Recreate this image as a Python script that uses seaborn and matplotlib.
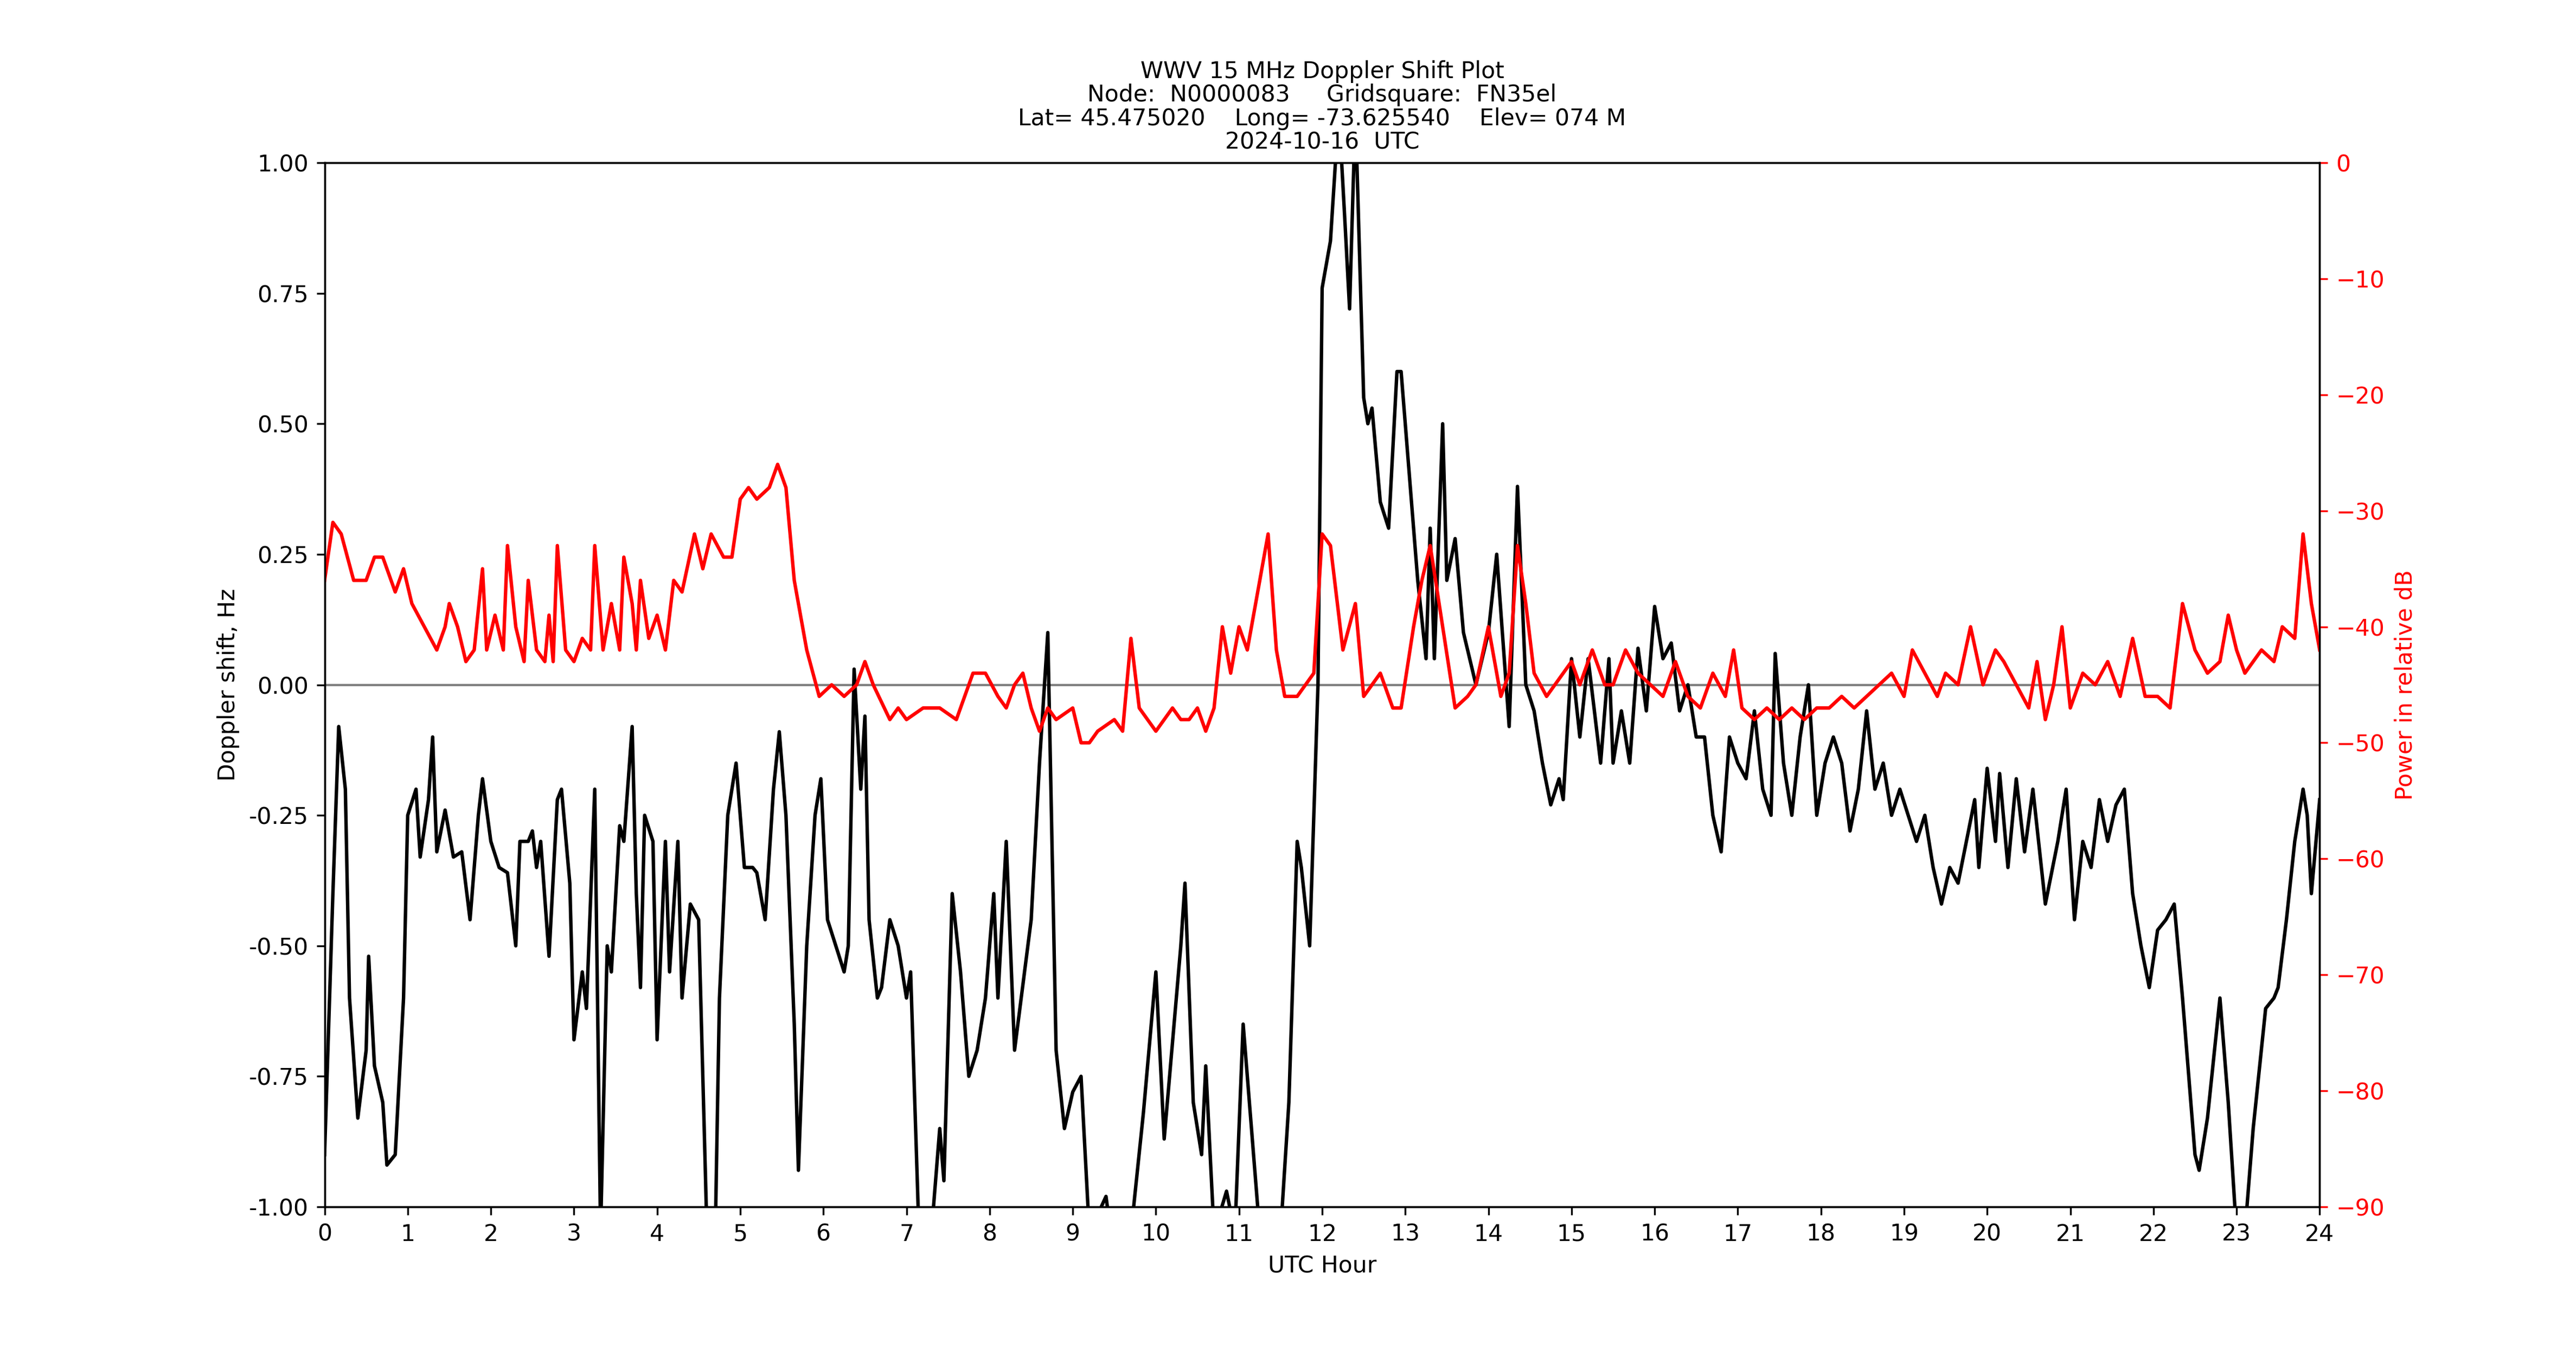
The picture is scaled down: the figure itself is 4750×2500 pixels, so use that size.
import matplotlib
matplotlib.use("Agg")
import matplotlib.pyplot as plt
import seaborn as sns
import pandas as pd

dop_t = [0,0.1,0.17,0.25,0.3,0.4,0.5,0.53,0.6,0.7,0.75,0.85,0.95,1.0,1.1,1.15,1.25,1.3,1.35,1.45,1.55,1.65,1.75,1.85,1.9,2.0,2.1,2.2,2.3,2.35,2.45,2.5,2.55,2.6,2.7,2.8,2.85,2.95,3.0,3.1,3.15,3.25,3.32,3.4,3.45,3.55,3.6,3.7,3.75,3.8,3.85,3.95,4.0,4.1,4.15,4.25,4.3,4.4,4.5,4.6,4.7,4.75,4.85,4.95,5.05,5.15,5.2,5.3,5.4,5.47,5.55,5.65,5.7,5.8,5.9,5.97,6.05,6.15,6.25,6.3,6.37,6.45,6.5,6.55,6.65,6.7,6.8,6.9,7.0,7.05,7.15,7.3,7.4,7.45,7.55,7.65,7.75,7.85,7.95,8.05,8.1,8.2,8.3,8.5,8.6,8.7,8.8,8.9,9.0,9.1,9.2,9.4,9.5,9.7,9.85,10.0,10.1,10.3,10.35,10.45,10.55,10.6,10.7,10.85,10.95,11.05,11.15,11.25,11.5,11.6,11.7,11.75,11.85,11.95,12.0,12.1,12.2,12.27,12.33,12.4,12.5,12.55,12.6,12.7,12.8,12.9,12.95,13.05,13.15,13.25,13.3,13.35,13.45,13.5,13.6,13.7,13.85,14.0,14.1,14.25,14.35,14.45,14.55,14.65,14.75,14.85,14.9,15.0,15.1,15.2,15.35,15.45,15.5,15.6,15.7,15.8,15.9,16.0,16.1,16.2,16.3,16.4,16.5,16.6,16.7,16.8,16.9,17.0,17.1,17.2,17.3,17.4,17.45,17.55,17.65,17.75,17.85,17.95,18.05,18.15,18.25,18.35,18.45,18.55,18.65,18.75,18.85,18.95,19.05,19.15,19.25,19.35,19.45,19.55,19.65,19.75,19.85,19.9,20.0,20.1,20.15,20.25,20.35,20.45,20.55,20.7,20.85,20.95,21.05,21.15,21.25,21.35,21.45,21.55,21.65,21.75,21.85,21.95,22.05,22.15,22.25,22.35,22.5,22.55,22.65,22.8,22.9,23.0,23.1,23.2,23.35,23.45,23.5,23.6,23.7,23.8,23.85,23.9,24.0]
dop_v = [-0.9,-0.4,-0.08,-0.2,-0.6,-0.83,-0.7,-0.52,-0.73,-0.8,-0.92,-0.9,-0.6,-0.25,-0.2,-0.33,-0.22,-0.1,-0.32,-0.24,-0.33,-0.32,-0.45,-0.25,-0.18,-0.3,-0.35,-0.36,-0.5,-0.3,-0.3,-0.28,-0.35,-0.3,-0.52,-0.22,-0.2,-0.38,-0.68,-0.55,-0.62,-0.2,-1.05,-0.5,-0.55,-0.27,-0.3,-0.08,-0.4,-0.58,-0.25,-0.3,-0.68,-0.3,-0.55,-0.3,-0.6,-0.42,-0.45,-1.05,-1.05,-0.6,-0.25,-0.15,-0.35,-0.35,-0.36,-0.45,-0.2,-0.09,-0.25,-0.65,-0.93,-0.5,-0.25,-0.18,-0.45,-0.5,-0.55,-0.5,0.03,-0.2,-0.06,-0.45,-0.6,-0.58,-0.45,-0.5,-0.6,-0.55,-1.05,-1.05,-0.85,-0.95,-0.4,-0.55,-0.75,-0.7,-0.6,-0.4,-0.6,-0.3,-0.7,-0.45,-0.15,0.1,-0.7,-0.85,-0.78,-0.75,-1.05,-0.98,-1.1,-1.05,-0.82,-0.55,-0.87,-0.5,-0.38,-0.8,-0.9,-0.73,-1.05,-0.97,-1.05,-0.65,-0.85,-1.05,-1.05,-0.8,-0.3,-0.35,-0.5,0.0,0.76,0.85,1.1,0.9,0.72,1.1,0.55,0.5,0.53,0.35,0.3,0.6,0.6,0.4,0.2,0.05,0.3,0.05,0.5,0.2,0.28,0.1,0.0,0.1,0.25,-0.08,0.38,0.0,-0.05,-0.15,-0.23,-0.18,-0.22,0.05,-0.1,0.05,-0.15,0.05,-0.15,-0.05,-0.15,0.07,-0.05,0.15,0.05,0.08,-0.05,0.0,-0.1,-0.1,-0.25,-0.32,-0.1,-0.15,-0.18,-0.05,-0.2,-0.25,0.06,-0.15,-0.25,-0.1,0.0,-0.25,-0.15,-0.1,-0.15,-0.28,-0.2,-0.05,-0.2,-0.15,-0.25,-0.2,-0.25,-0.3,-0.25,-0.35,-0.42,-0.35,-0.38,-0.3,-0.22,-0.35,-0.16,-0.3,-0.17,-0.35,-0.18,-0.32,-0.2,-0.42,-0.3,-0.2,-0.45,-0.3,-0.35,-0.22,-0.3,-0.23,-0.2,-0.4,-0.5,-0.58,-0.47,-0.45,-0.42,-0.6,-0.9,-0.93,-0.83,-0.6,-0.8,-1.05,-1.05,-0.85,-0.62,-0.6,-0.58,-0.45,-0.3,-0.2,-0.25,-0.4,-0.22]

pow_t = [0,0.1,0.2,0.35,0.5,0.6,0.7,0.85,0.95,1.05,1.2,1.35,1.45,1.5,1.6,1.7,1.8,1.9,1.95,2.05,2.15,2.2,2.3,2.4,2.45,2.55,2.65,2.7,2.75,2.8,2.9,3.0,3.1,3.2,3.25,3.35,3.45,3.55,3.6,3.7,3.75,3.8,3.9,4.0,4.1,4.2,4.3,4.45,4.55,4.65,4.8,4.9,5.0,5.1,5.2,5.35,5.45,5.55,5.65,5.8,5.95,6.1,6.25,6.4,6.5,6.6,6.8,6.9,7.0,7.2,7.4,7.6,7.8,7.95,8.1,8.2,8.3,8.4,8.5,8.6,8.7,8.8,9.0,9.1,9.2,9.3,9.5,9.6,9.7,9.8,10.0,10.2,10.3,10.4,10.5,10.6,10.7,10.8,10.9,11.0,11.1,11.2,11.35,11.45,11.55,11.7,11.9,12.0,12.1,12.25,12.4,12.5,12.7,12.85,12.95,13.1,13.2,13.3,13.45,13.6,13.75,13.85,14.0,14.15,14.25,14.35,14.45,14.55,14.7,14.8,14.9,15.0,15.1,15.25,15.4,15.5,15.65,15.8,15.95,16.1,16.25,16.4,16.55,16.7,16.85,16.95,17.05,17.2,17.35,17.5,17.65,17.8,17.95,18.1,18.25,18.4,18.55,18.7,18.85,19.0,19.1,19.25,19.4,19.5,19.65,19.8,19.95,20.1,20.2,20.35,20.5,20.6,20.7,20.8,20.9,21.0,21.15,21.3,21.45,21.6,21.75,21.9,22.05,22.2,22.35,22.5,22.65,22.8,22.9,23.0,23.1,23.3,23.45,23.55,23.7,23.8,23.9,24.0]
pow_v = [-36,-31,-32,-36,-36,-34,-34,-37,-35,-38,-40,-42,-40,-38,-40,-43,-42,-35,-42,-39,-42,-33,-40,-43,-36,-42,-43,-39,-43,-33,-42,-43,-41,-42,-33,-42,-38,-42,-34,-38,-42,-36,-41,-39,-42,-36,-37,-32,-35,-32,-34,-34,-29,-28,-29,-28,-26,-28,-36,-42,-46,-45,-46,-45,-43,-45,-48,-47,-48,-47,-47,-48,-44,-44,-46,-47,-45,-44,-47,-49,-47,-48,-47,-50,-50,-49,-48,-49,-41,-47,-49,-47,-48,-48,-47,-49,-47,-40,-44,-40,-42,-38,-32,-42,-46,-46,-44,-32,-33,-42,-38,-46,-44,-47,-47,-40,-36,-33,-40,-47,-46,-45,-40,-46,-44,-33,-38,-44,-46,-45,-44,-43,-45,-42,-45,-45,-42,-44,-45,-46,-43,-46,-47,-44,-46,-42,-47,-48,-47,-48,-47,-48,-47,-47,-46,-47,-46,-45,-44,-46,-42,-44,-46,-44,-45,-40,-45,-42,-43,-45,-47,-43,-48,-45,-40,-47,-44,-45,-43,-46,-41,-46,-46,-47,-38,-42,-44,-43,-39,-42,-44,-42,-43,-40,-41,-32,-38,-42]

hour_ticks = list(range(0, 25))

fig = plt.figure(figsize=(4750/306, 2500/306), dpi=306)
ax = fig.add_axes([0.126, 0.11, 0.7745, 0.77])
ax.axhline(0, color="gray", lw=1)
sns.lineplot(x=dop_t, y=dop_v, ax=ax, color="black", lw=1.5, sort=False)
ax.set_xlim(0, 24)
ax.set_ylim(-1, 1)
ax.set_xticks(hour_ticks)
ax.set_yticks([-1, -0.75, -0.5, -0.25, 0, 0.25, 0.5, 0.75, 1])
ax.yaxis.set_major_formatter(matplotlib.ticker.FormatStrFormatter("%.2f"))
ax.set_xlabel("UTC Hour")
ax.set_ylabel("Doppler shift, Hz")
ax.set_title("WWV 15 MHz Doppler Shift Plot\nNode:  N0000083     Gridsquare:  FN35el\n"
             "Lat= 45.475020    Long= -73.625540    Elev= 074 M\n2024-10-16  UTC", fontsize=10, linespacing=1.05)

ax2 = ax.twinx()
sns.lineplot(x=pow_t, y=pow_v, ax=ax2, color="red", lw=1.5, sort=False)
ax2.set_ylim(-90, 0)
ax2.set_yticks(range(-90, 1, 10))
ax2.set_ylabel("Power in relative dB", color="red")
ax2.tick_params(axis="y", colors="red")
ax2.set_xlim(0, 24)

fig.savefig("out.png", dpi=306)
